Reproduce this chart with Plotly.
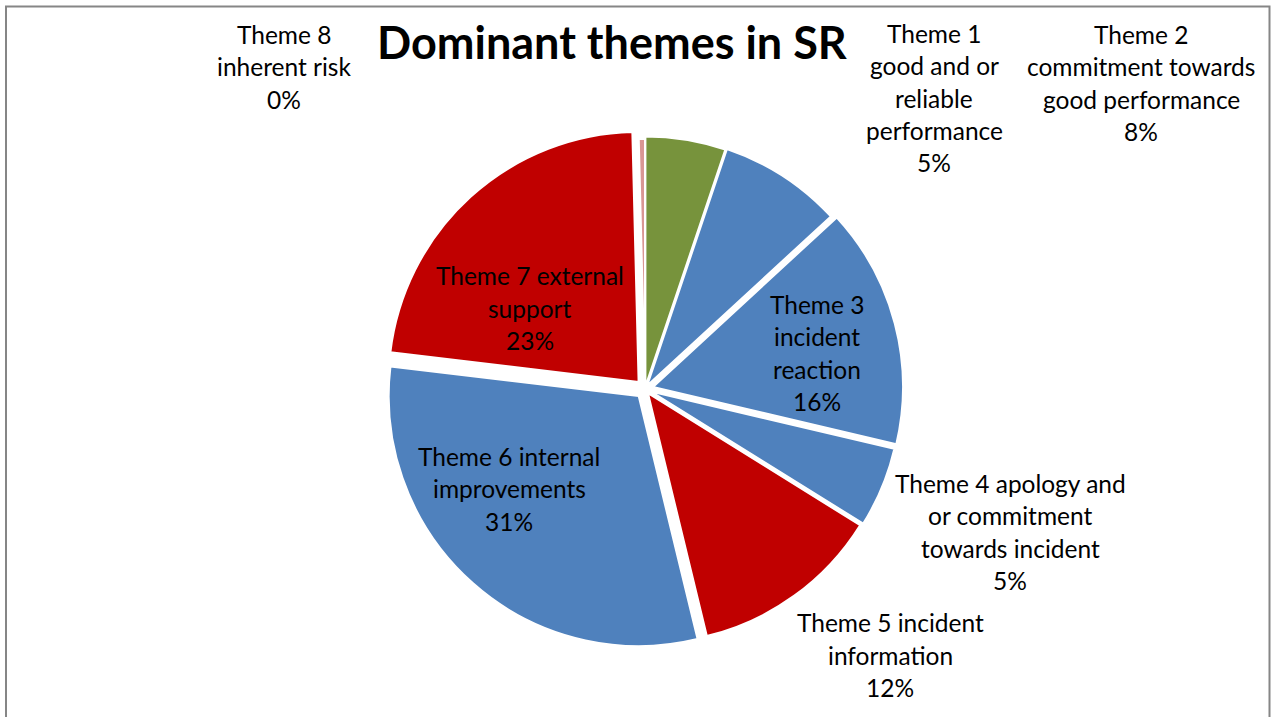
import plotly.graph_objects as go

# ---- data ----
categories = ["Theme 1 good and or reliable performance",
              "Theme 2 commitment towards good performance",
              "Theme 3 incident reaction",
              "Theme 4 apology and or commitment towards incident",
              "Theme 5 incident information",
              "Theme 6 internal improvements",
              "Theme 7 external support",
              "Theme 8 inherent risk"]
values = [13, 20, 39, 13, 31, 77, 57, 1]
label_lines = [["Theme 1", "good and or", "reliable", "performance"],
               ["Theme 2", "commitment towards", "good performance"],
               ["Theme 3", "incident", "reaction"],
               ["Theme 4 apology and", "or commitment", "towards incident"],
               ["Theme 5 incident", "information"],
               ["Theme 6 internal", "improvements"],
               ["Theme 7 external", "support"],
               ["Theme 8", "inherent risk"]]
title_text = "Dominant themes in SR"

# ---- styles / layout ----
colors = ["#77933C", "#4F81BD", "#4F81BD", "#4F81BD", "#C00000", "#4F81BD", "#C00000", "#D99694"]
pulls = [0.01, 0.015, 0.033, 0.026, 0.02, 0.038, 0.038, 0.0]
W, H = 1271, 717
label_centers = [(934, 98), (1141, 83), (817, 353), (1010, 532),
                 (890, 655), (509, 489), (530, 308), (284, 67)]
LINE = 32.3
FONT = "Lato, Calibri, Carlito, sans-serif"

cx, cy, R = 645, 389, 250
half = R * (1 + max(pulls))

fig = go.Figure(go.Pie(
    labels=categories, values=values, sort=False, direction="clockwise",
    rotation=0, pull=pulls, textinfo="none", showlegend=False,
    marker=dict(colors=colors, line=dict(color="white", width=2)),
    domain=dict(x=[(cx - half) / W, (cx + half) / W],
                y=[1 - (cy + half) / H, 1 - (cy - half) / H]),
))

total = sum(values)
annotations = []
for lines, v, (lx, ly) in zip(label_lines, values, label_centers):
    all_lines = lines + [f"{round(v / total * 100)}%"]
    n = len(all_lines)
    for i, t in enumerate(all_lines):
        y = ly + (i - (n - 1) / 2) * LINE
        annotations.append(dict(x=lx / W, y=1 - y / H, xref="paper", yref="paper",
                                text=t, showarrow=False, xanchor="center", yanchor="middle",
                                font=dict(family=FONT, size=24.5, color="black")))
annotations.append(dict(x=612.5 / W, y=1 - 42 / H, xref="paper", yref="paper",
                        text=f"<b>{title_text}</b>", showarrow=False,
                        xanchor="center", yanchor="middle",
                        font=dict(family=FONT, size=45, color="black")))

fig.update_layout(
    width=W, height=H, margin=dict(l=0, r=0, t=0, b=0),
    paper_bgcolor="white", plot_bgcolor="white",
    annotations=annotations,
    shapes=[dict(type="rect", xref="paper", yref="paper",
                 x0=6 / W, x1=1269.5 / W, y0=-0.05, y1=1 - 6.5 / H,
                 line=dict(color="#868686", width=2), fillcolor="rgba(0,0,0,0)")],
)

fig.write_html("out.html", config={"displayModeBar": False},
               post_script="document.body.style.margin='0';document.body.style.overflow='hidden';")
